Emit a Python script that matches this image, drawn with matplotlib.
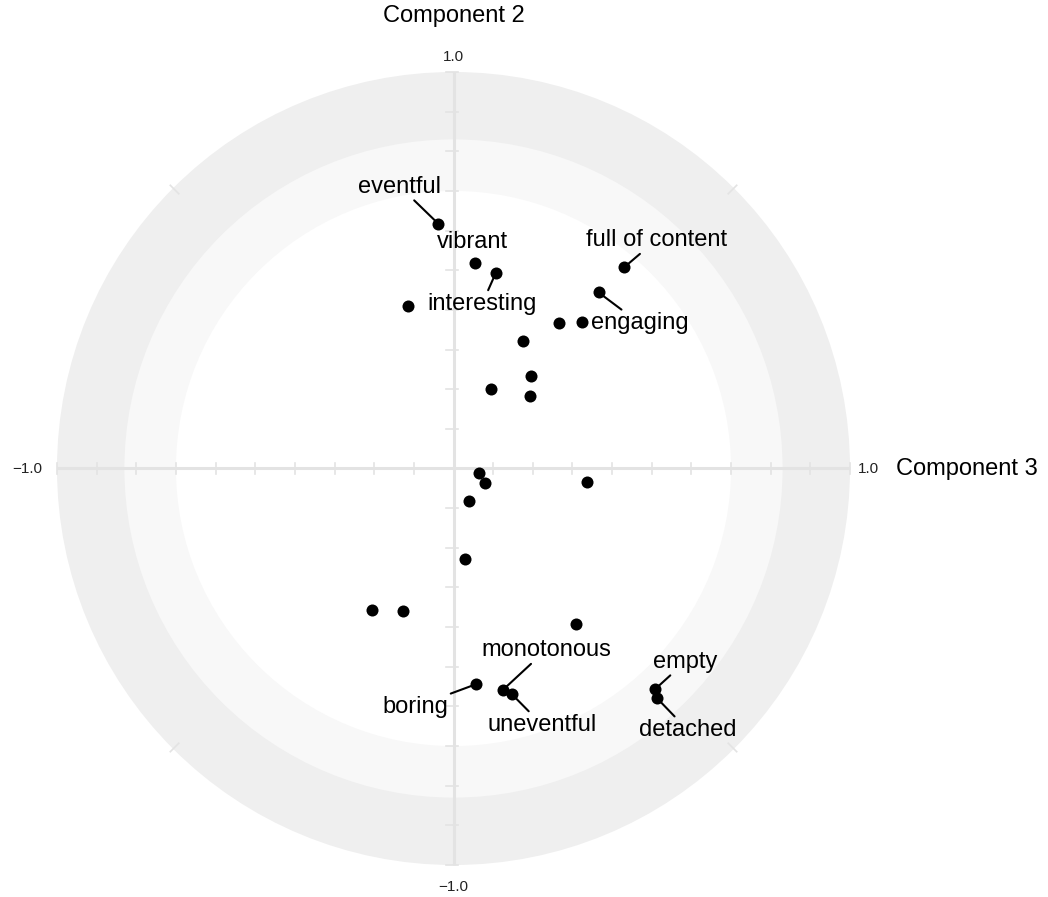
import matplotlib
matplotlib.use("Agg")
import matplotlib.pyplot as plt
from matplotlib.patches import Circle
import numpy as np

plt.rcParams['font.family'] = ['Liberation Sans', 'DejaVu Sans']

# loadings on component 3 (x) and component 2 (y)
comp3 = [-0.038, 0.054, 0.107, -0.114, 0.430, 0.366, 0.266, 0.325, 0.175, 0.195,
         0.095, 0.193, 0.065, 0.079, 0.336, 0.040, 0.029, -0.206, -0.127, 0.308,
         0.057, 0.124, 0.147, 0.508, 0.514]
comp2 = [0.617, 0.518, 0.494, 0.411, 0.507, 0.444, 0.368, 0.370, 0.322, 0.233,
         0.200, 0.183, -0.012, -0.037, -0.034, -0.081, -0.229, -0.357, -0.360, -0.392,
         -0.544, -0.559, -0.569, -0.557, -0.580]
terms = ['eventful', 'vibrant', 'interesting', '', 'full of content', 'engaging',
         '', '', '', '', '', '', '', '', '', '', '', '', '', '',
         'boring', 'monotonous', 'uneventful', 'empty', 'detached']

# where each label sits (repelled position) and whether it gets a leader line
label_pos = {
    'eventful': (-0.135, 0.711, True),
    'vibrant': (0.049, 0.572, False),
    'interesting': (0.072, 0.415, True),
    'full of content': (0.511, 0.576, True),
    'engaging': (0.470, 0.366, True),
    'monotonous': (0.233, -0.458, True),
    'boring': (-0.097, -0.601, True),
    'uneventful': (0.224, -0.647, True),
    'empty': (0.585, -0.487, True),
    'detached': (0.591, -0.660, True),
}

W, H = 1048, 897
cx, cy, R = 453.5, 468.5, 396.5

fig = plt.figure(figsize=(W / 100, H / 100), dpi=100)
ax = fig.add_axes([0, 0, 1, 1])
ax.set_xlim(-cx / R, (W - cx) / R)
ax.set_ylim(-(H - cy) / R, cy / R)
ax.axis('off')

# background rings
ax.add_patch(Circle((0, 0), 1.0, color='#efefef', lw=0, zorder=0))
ax.add_patch(Circle((0, 0), 0.83, color='#f8f8f8', lw=0, zorder=0))
ax.add_patch(Circle((0, 0), 0.70, color='white', lw=0, zorder=0))

# axes through the centre with ticks every 0.1
axcol = '#e3e3e3'
ax.plot([-1, 1], [0, 0], color=axcol, lw=2.2, zorder=1, solid_capstyle='butt')
ax.plot([0, 0], [-1, 1], color=axcol, lw=2.2, zorder=1, solid_capstyle='butt')
tl = 0.015
for t in np.linspace(-1, 1, 21):
    ax.plot([t, t], [-tl, tl], color=axcol, lw=1.2, zorder=1)
    ax.plot([-tl * 1.3, tl * 0.7], [t, t], color=axcol, lw=1.2, zorder=1)
for a in np.deg2rad([45, 135, 225, 315]):
    ax.plot([0.98 * np.cos(a), 1.01 * np.cos(a)], [0.98 * np.sin(a), 1.01 * np.sin(a)],
            color=axcol, lw=1.2, zorder=1)

# tick labels at the ends
tkw = dict(fontsize=11, color='#222222')
ax.text(0, 1.039, '1.0', ha='center', va='center', **tkw)
ax.text(0, -1.055, '\u22121.0', ha='center', va='center', **tkw)
ax.text(1.02, 0, '1.0', ha='left', va='center', **tkw)
ax.text(-1.036, 0, '\u22121.0', ha='right', va='center', **tkw)

ax.text(0, 1.14, 'Component 2', ha='center', va='center', fontsize=17)
ax.text(1.116, 0, 'Component 3', ha='left', va='center', fontsize=17)

ax.scatter(comp3, comp2, s=75, color='black', zorder=3, linewidths=0)

for x, y, name in zip(comp3, comp2, terms):
    if not name:
        continue
    lx, ly, seg = label_pos[name]
    arrow = dict(arrowstyle='-', color='black', lw=1.5, shrinkA=0, shrinkB=0) if seg else None
    ax.annotate(name, xy=(x, y), xytext=(lx, ly), textcoords='data',
                ha='center', va='center', fontsize=17, zorder=4, arrowprops=arrow)

fig.savefig('out.png', dpi=100)
